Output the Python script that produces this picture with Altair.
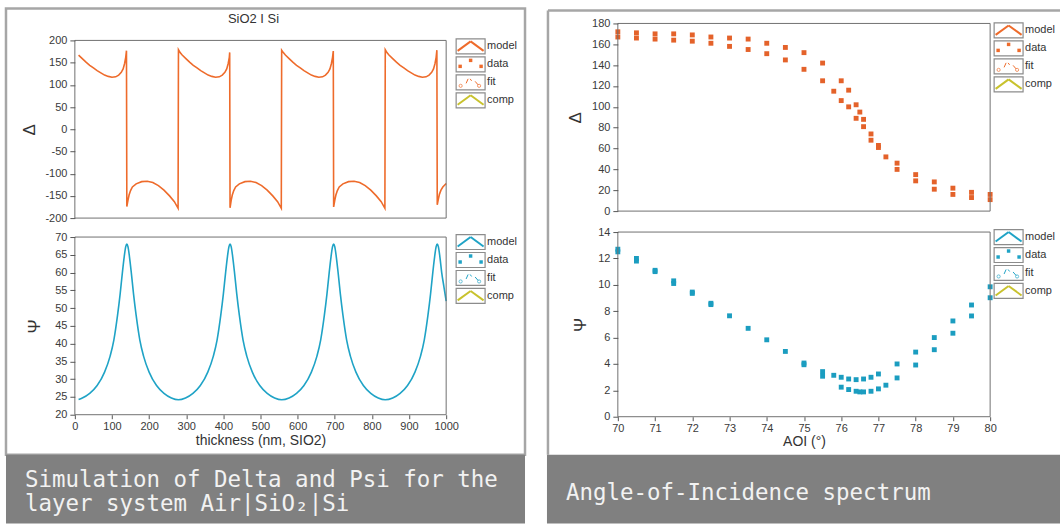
import altair as alt
import pandas as pd

# ---------------- data ----------------
thick_delta = [10, 20, 30, 40, 50, 60, 70, 80, 90, 100, 110, 118, 125, 130, 134, 137, 139,
               140, 143, 146, 150, 155, 165, 180, 195, 210, 225, 240, 255, 268, 278,
               279, 284, 289, 299, 309, 319, 329, 339, 349, 359, 369, 379, 389, 397, 404, 409, 413, 416, 417,
               418, 421, 424, 428, 433, 443, 458, 473, 488, 503, 518, 533, 546, 556,
               557, 562, 567, 577, 587, 597, 607, 617, 627, 637, 647, 657, 667, 675, 682, 687, 691, 694, 696,
               697, 700, 703, 707, 712, 722, 737, 752, 767, 782, 797, 812, 825, 835,
               836, 841, 846, 856, 866, 876, 886, 896, 906, 916, 926, 936, 946, 954, 961, 966, 970, 973, 975,
               976, 979, 982, 986, 991, 1000]
delta_model = [167, 159, 151, 144, 138, 132, 127, 122, 119, 117, 118, 122, 128, 136, 148, 162, 177,
               -174, -160, -148, -138, -130, -123, -118, -117, -120, -127, -137, -150, -163, -178,
               179, 172, 167, 159, 151, 144, 138, 132, 127, 122, 119, 117, 118, 122, 128, 136, 148, 162, 173,
               -177, -160, -148, -138, -130, -123, -118, -117, -120, -127, -137, -150, -163, -178,
               178, 172, 167, 159, 151, 144, 138, 132, 127, 122, 119, 117, 118, 122, 128, 136, 148, 162, 176,
               -175, -160, -148, -138, -130, -123, -118, -117, -120, -127, -137, -150, -163, -178,
               179, 172, 167, 159, 151, 144, 138, 132, 127, 122, 119, 117, 118, 122, 128, 136, 148, 162, 178,
               -170, -157, -146, -137, -130, -122]

thick_psi = [10, 20, 40, 60, 80, 95, 105, 115, 122, 128, 133, 137, 140, 143, 147, 152, 158, 165, 175, 185, 200, 220, 240, 260, 279,
             298, 318, 338, 358, 373, 383, 393, 400, 406, 411, 415, 418, 421, 425, 430, 436, 443, 453, 463, 478, 498, 518, 538, 557,
             577, 597, 617, 637, 652, 662, 672, 679, 685, 690, 694, 697, 700, 704, 709, 715, 722, 732, 742, 757, 777, 797, 817, 836,
             856, 876, 896, 916, 931, 941, 951, 958, 964, 969, 973, 976, 979, 983, 988, 994, 1000]
psi_model = [24.3, 24.7, 26, 28.2, 32, 36.5, 41, 48, 54, 60, 64.5, 67.3, 68, 67.3, 64.5, 60, 54, 48, 41, 36.5, 32, 28.2, 26, 24.7, 24.2,
             24.7, 26, 28.2, 32, 36.5, 41, 48, 54, 60, 64.5, 67.3, 68, 67.3, 64.5, 60, 54, 48, 41, 36.5, 32, 28.2, 26, 24.7, 24.2,
             24.7, 26, 28.2, 32, 36.5, 41, 48, 54, 60, 64.5, 67.3, 68, 67.3, 64.5, 60, 54, 48, 41, 36.5, 32, 28.2, 26, 24.7, 24.2,
             24.7, 26, 28.2, 32, 36.5, 41, 48, 54, 60, 64.5, 67.3, 68, 67.3, 64.5, 60, 56, 52]

aoi_delta = [70, 70, 70.5, 70.5, 71, 71, 71.5, 71.5, 72, 72, 72.5, 72.5, 73, 73, 73.5, 73.5, 74, 74, 74.5, 74.5,
             75, 75, 75.5, 75.5, 75.8, 76, 76, 76.2, 76.2, 76.4, 76.4, 76.5, 76.6, 76.6, 76.8, 76.8, 77, 77, 77.2,
             77.5, 77.5, 78, 78, 78.5, 78.5, 79, 79, 79.5, 79.5, 80, 80]
delta_data = [172, 167, 171, 166, 170, 165, 170, 164, 169, 163, 167, 161, 166, 158, 165, 155, 161, 151, 157, 145,
              152, 136, 142, 125, 115, 125, 106, 116, 100, 102, 89, 95, 88, 81, 74, 68, 63, 61, 52,
              46, 40, 35, 29, 28, 21, 22, 16, 18, 13, 16, 11]

aoi_psi = [70, 70, 70.5, 70.5, 71, 71, 71.5, 71.5, 72, 72, 72.5, 72.5, 73, 73.5, 74, 74.5, 75, 75, 75.5, 75.5,
           75.8, 76, 76, 76.2, 76.2, 76.4, 76.4, 76.5, 76.6, 76.6, 76.8, 76.8, 77, 77, 77.2, 77.5, 77.5,
           78, 78, 78.5, 78.5, 79, 79, 79.5, 79.5, 80, 80]
psi_data = [12.7, 12.5, 12.0, 11.8, 11.1, 11.0, 10.3, 10.1, 9.45, 9.35, 8.6, 8.5, 7.65, 6.7, 5.83, 4.95, 4.07, 3.94, 3.42, 3.07,
            3.14, 2.99, 2.24, 2.86, 2.06, 2.81, 1.93, 1.88, 2.86, 1.88, 2.99, 1.93, 3.24, 2.11, 2.39, 4.0, 2.94,
            4.9, 3.92, 6.0, 5.08, 7.26, 6.33, 8.47, 7.64, 9.85, 9.02]

delta_ticks_l = [-200, -150, -100, -50, 0, 50, 100, 150, 200]
psi_ticks_l = [20, 25, 30, 35, 40, 45, 50, 55, 60, 65, 70]
thick_ticks = [0, 100, 200, 300, 400, 500, 600, 700, 800, 900, 1000]
delta_ticks_r = [0, 20, 40, 60, 80, 100, 120, 140, 160, 180]
psi_ticks_r = [0, 2, 4, 6, 8, 10, 12, 14]
aoi_ticks = [70, 71, 72, 73, 74, 75, 76, 77, 78, 79, 80]

legend_names = ["model", "data", "fit", "comp"]
title_left = "SiO2 I Si"
xtitle_left = "thickness (nm, SIO2)"
xtitle_right = "AOI (°)"
caption_left = ["Simulation of Delta and Psi for the", "layer system Air|SiO\u2082|Si"]
caption_right = "Angle-of-Incidence spectrum"

# ---------------- styles ----------------
ORANGE = "#ee6b2b"
ORANGE_D = "#e4622a"
BLUE = "#1fa3c6"
BLUE_D = "#1b9dc0"
YELLOW = "#c8c22d"
FRAME = "#a6a6a6"
BOX = "#707070"
CAPTION = "#808080"
FONT = "Liberation Sans"
MONO = "DejaVu Sans Mono"
CAP_SIZE = 22.5

ONE = pd.DataFrame({"k": [0]})


def rect(x1, x2, y1, y2, **kw):
    return alt.Chart(ONE).mark_rect(**kw).encode(
        x=alt.value(x1), x2=alt.value(x2), y=alt.value(y1), y2=alt.value(y2))


def seg(x1, y1, x2, y2, color, w=1.6):
    return alt.Chart(ONE).mark_rule(color=color, strokeWidth=w).encode(
        x=alt.value(x1), y=alt.value(y1), x2=alt.value(x2), y2=alt.value(y2))


def txt(x, y, s, **kw):
    return alt.Chart(ONE).mark_text(**kw).encode(
        x=alt.value(x), y=alt.value(y), text=alt.value(s))


def pt(x, y, **kw):
    return alt.Chart(ONE).mark_point(**kw).encode(x=alt.value(x), y=alt.value(y))


def legend(x0, y0, color, step=18, bw=29, bh=15):
    layers = []
    for i, name in enumerate(legend_names):
        yc = y0 + i * step
        t, b = yc - bh / 2, yc + bh / 2
        layers.append(rect(x0, x0 + bw, t, b, fill="white", stroke="#8c8c8c", strokeWidth=1.2))
        layers.append(txt(x0 + bw + 2, yc, name, align="left", baseline="middle",
                          font=FONT, fontSize=11, color="#333333"))
        if name in ("model", "comp"):
            c = color if name == "model" else YELLOW
            layers.append(seg(x0 + 1.5, b - 3, x0 + bw / 2, t + 2.5, c, 2))
            layers.append(seg(x0 + bw / 2, t + 2.5, x0 + bw - 1.5, b - 3, c, 2))
        elif name == "data":
            for px, py in [(x0 + 4, yc + 2), (x0 + bw / 2, t + 3.5), (x0 + bw - 4, yc + 2)]:
                layers.append(pt(px, py, shape="square", size=12, filled=True, color=color, opacity=1))
        else:
            layers.append(pt(x0 + 4.5, b - 4, shape="circle", size=10, filled=False, color=color, strokeWidth=1))
            layers.append(pt(x0 + bw - 6, b - 4, shape="circle", size=10, filled=False, color=color, strokeWidth=1))
            layers.append(seg(x0 + 10, yc + 1, x0 + 12, t + 4, color, 1))
            layers.append(seg(x0 + 14, t + 4, x0 + 15.5, t + 6, color, 1))
            layers.append(seg(x0 + bw - 10, yc - 1, x0 + bw - 7, b - 5, color, 1))
    return layers


def yaxis(values, title, tx, ty):
    return alt.Axis(values=values, title=title, orient="left", zindex=2, titleFont=FONT,
                    titleFontSize=17, titleFontWeight="normal", titleColor="#333333",
                    titleX=tx, titleY=ty, titleAngle=270, titleAlign="center",
                    titleBaseline="middle", labelExpr="'' + datum.value", labelFont=FONT,
                    labelFontSize=11, labelColor="#3a3a3a", tickColor="#555555", tickSize=5,
                    labelPadding=3, domain=False, grid=False, labelOverlap=False)


def xaxis(values, title, ty):
    return alt.Axis(values=values, title=title, orient="bottom", zindex=2, titleFont=FONT,
                    titleFontSize=14, titleFontWeight="normal", titleColor="#333333",
                    titleY=ty, titleBaseline="middle", labelExpr="'' + datum.value",
                    labelFont=FONT, labelFontSize=11, labelColor="#3a3a3a",
                    tickColor="#555555", tickSize=4, labelPadding=2, domain=False,
                    grid=False, labelOverlap=False, labelFlush=False)


# ---------------- left panel: one view, origin at page (75, 23) ----------------
WL, HL = 372, 392
DL_TOP, DL_BOT = 17, 195      # Delta plot area rows
PL_TOP, PL_BOT = 214, 392     # Psi plot area rows
x_left = alt.X("t:Q", scale=alt.Scale(domain=[0, 1000], nice=False, zero=False),
               axis=xaxis(thick_ticks, xtitle_left, 26))

dl_df = pd.DataFrame({"t": thick_delta, "d": delta_model})
dl_line = alt.Chart(dl_df).mark_line(color=ORANGE, strokeWidth=1.6).encode(
    x=x_left,
    y=alt.Y("d:Q", scale=alt.Scale(domain=[-200, 200], range=[DL_BOT, DL_TOP], nice=False, zero=False),
            axis=yaxis(delta_ticks_l, "Δ", -45, (DL_TOP + DL_BOT) / 2)))

pl_df = pd.DataFrame({"t": thick_psi, "p": psi_model})
pl_line = alt.Chart(pl_df).mark_line(color=BLUE, strokeWidth=1.6, interpolate="monotone").encode(
    x=x_left,
    y=alt.Y("p:Q", scale=alt.Scale(domain=[20, 70], range=[PL_BOT, PL_TOP], nice=False, zero=False),
            axis=yaxis(psi_ticks_l, "Ψ", -40, (PL_TOP + PL_BOT) / 2)))

left = alt.layer(
    rect(-75, 987, -23, 501, fill="white"),
    rect(-69, 451, -15, 432, fill="transparent", stroke=FRAME, strokeWidth=2.5),
    txt(179, -4, title_left, align="center", baseline="middle", font=FONT,
        fontSize=13, color="#333333"),
    dl_line,
    pl_line,
    rect(0, WL, DL_TOP, DL_BOT, fill="transparent", stroke=BOX, strokeWidth=1),
    rect(0, WL, PL_TOP, PL_BOT, fill="transparent", stroke=BOX, strokeWidth=1),
    *legend(382, 23, ORANGE),
    *legend(382, 219, BLUE),
    rect(-69, 451, 432, 501, fill=CAPTION),
    txt(-50, 457, caption_left[0], align="left", baseline="middle", font=MONO, fontSize=CAP_SIZE, color="#f2f2f2"),
    txt(-50, 481, caption_left[1], align="left", baseline="middle", font=MONO, fontSize=CAP_SIZE, color="#f2f2f2"),
).resolve_scale(y="independent").properties(width=WL, height=HL)

# ---------------- right panel: one view, origin at page (619, 23) ----------------
WR, HR = 373, 394
DR_TOP, DR_BOT = 0, 188
PR_TOP, PR_BOT = 209, 394
x_right = alt.X("a:Q", scale=alt.Scale(domain=[70, 80], nice=False, zero=False),
                axis=xaxis(aoi_ticks, xtitle_right, 25))

dr_df = pd.DataFrame({"a": aoi_delta, "d": delta_data})
dr_pts = alt.Chart(dr_df).mark_square(size=24, color=ORANGE_D, opacity=1).encode(
    x=x_right,
    y=alt.Y("d:Q", scale=alt.Scale(domain=[0, 180], range=[DR_BOT, DR_TOP], nice=False, zero=False),
            axis=yaxis(delta_ticks_r, "Δ", -42, (DR_TOP + DR_BOT) / 2)))

pr_df = pd.DataFrame({"a": aoi_psi, "p": psi_data})
pr_pts = alt.Chart(pr_df).mark_square(size=24, color=BLUE_D, opacity=1).encode(
    x=x_right,
    y=alt.Y("p:Q", scale=alt.Scale(domain=[0, 14], range=[PR_BOT, PR_TOP], nice=False, zero=False),
            axis=yaxis(psi_ticks_r, "Ψ", -37, (PR_TOP + PR_BOT) / 2)))

right = alt.layer(
    seg(-70, -13, -70, 432, FRAME, 2.5),
    seg(-70, -13, 443, -13, FRAME, 2.5),
    dr_pts,
    pr_pts,
    rect(0, WR, DR_TOP, DR_BOT, fill="transparent", stroke=BOX, strokeWidth=1),
    rect(0, WR, PR_TOP, PR_BOT, fill="transparent", stroke=BOX, strokeWidth=1),
    *legend(377, 7, ORANGE),
    *legend(377, 214, BLUE),
    rect(-71, 443, 432, 501, fill=CAPTION),
    txt(-52, 470, caption_right, align="left", baseline="middle", font=MONO, fontSize=CAP_SIZE, color="#f2f2f2"),
).resolve_scale(y="independent").properties(width=WR, height=HR)

chart = alt.hconcat(left, right, spacing=172, bounds="flush").properties(
    padding=0, background="white"
).configure_view(strokeOpacity=0)

chart.save("out.html", embed_options={"renderer": "svg", "actions": False})
